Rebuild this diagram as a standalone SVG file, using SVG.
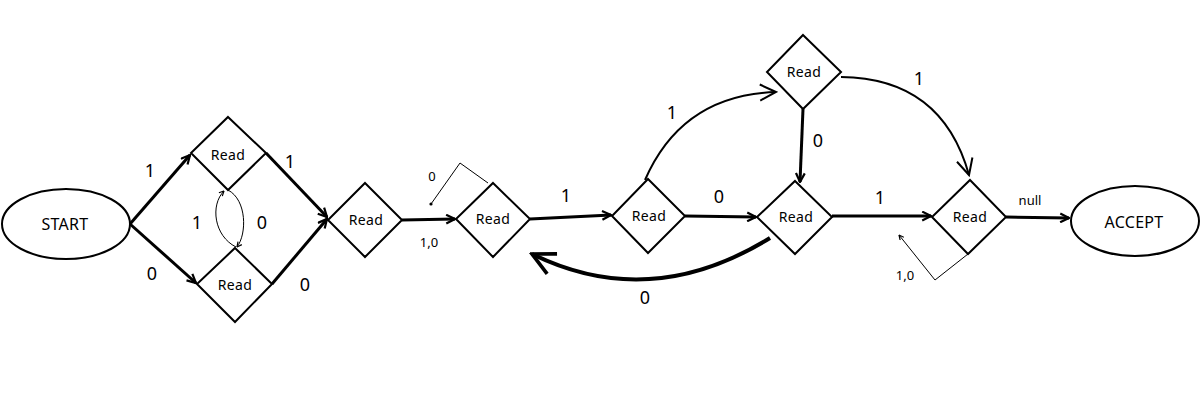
<svg xmlns="http://www.w3.org/2000/svg" width="1200" height="400" viewBox="0 0 1200 400">
<style>
.node{fill:#fff;stroke:#000;stroke-width:2}
.lbl{font-family:"Noto Sans","Liberation Sans",sans-serif;fill:#000;text-anchor:middle;dominant-baseline:central}
.read{font-size:14px;letter-spacing:0.4px}
.term{font-size:16px;letter-spacing:0.3px}
.edge{font-size:18px}
.small{font-size:13px}
.thick{fill:none;stroke:#000;stroke-width:3}
.mid{fill:none;stroke:#000;stroke-width:2}
.thin{fill:none;stroke:#000;stroke-width:1}
</style>
<defs>
<marker id="ah" viewBox="0 0 10 10" refX="9" refY="5" markerWidth="11" markerHeight="11" markerUnits="userSpaceOnUse" orient="auto">
<path d="M1,1 L9,5 L1,9" fill="none" stroke="#000" stroke-width="2"/>
</marker>
<marker id="big" viewBox="0 0 10 10" refX="9" refY="5" markerWidth="20" markerHeight="20" markerUnits="userSpaceOnUse" orient="auto">
<path d="M1,1 L9,5 L1,9" fill="none" stroke="#000" stroke-width="1"/>
</marker>
<marker id="bigthick" viewBox="0 0 10 10" refX="9" refY="5" markerWidth="28" markerHeight="28" markerUnits="userSpaceOnUse" orient="auto">
<path d="M1,1 L9,5 L1,9" fill="none" stroke="#000" stroke-width="1.3"/>
</marker>
<marker id="tiny" viewBox="0 0 10 10" refX="9" refY="5" markerWidth="6" markerHeight="6" markerUnits="userSpaceOnUse" orient="auto">
<path d="M1,1 L9,5 L1,9" fill="none" stroke="#000" stroke-width="2"/>
</marker>
</defs>

<g id="connectors">
<path class="thick" d="M130,224 L190,155" marker-end="url(#ah)"/>
<path class="thick" d="M130,224 L196,283" marker-end="url(#ah)"/>
<path class="thick" d="M266,153 L327,217" marker-end="url(#ah)"/>
<path class="thick" d="M272,284 L327,219" marker-end="url(#ah)"/>
<path class="thin" d="M236,247 C214,236 210,205 224,191" stroke-width="0.8" marker-end="url(#tiny)"/>
<path class="thin" d="M228,190 C247,200 247,234 237,247" stroke-width="0.8" marker-end="url(#tiny)"/>
<path class="thick" d="M402,220 L455,219" marker-end="url(#ah)"/>
<polyline class="thin" points="488,183 460,163 431,204"/>
<circle cx="431" cy="204" r="1.6" fill="#000"/>
<path class="thick" d="M530,219 L611,215" marker-end="url(#ah)"/>
<path class="mid" d="M645,180 Q682,95 776,92" marker-end="url(#big)"/>
<path class="thick" d="M685,216 L756,217" marker-end="url(#ah)"/>
<path class="thick" d="M803,109 L800,182" marker-end="url(#ah)"/>
<path class="mid" d="M841,77 Q942,78 969,175" marker-end="url(#big)"/>
<path d="M770,238 Q650,312 532,254" fill="none" stroke="#000" stroke-width="4" marker-end="url(#bigthick)"/>
<path class="thick" d="M832,216 L931,216" marker-end="url(#ah)"/>
<polyline class="thin" points="968,254 935,280 899,235" stroke-width="1.5" marker-end="url(#tiny)"/>
<path class="thick" d="M1006,217 L1069,218" marker-end="url(#ah)"/>
</g>

<g id="start">
<ellipse class="node" cx="66" cy="224" rx="64" ry="35"/>
<text class="lbl term" x="65" y="224">START</text>
</g>
<g id="read1">
<polygon class="node" points="228,117 266,153 228,190 191,153"/>
<text class="lbl read" x="228" y="154">Read</text>
</g>
<g id="read2">
<polygon class="node" points="235,248 272,284 235,322 197,284"/>
<text class="lbl read" x="235" y="284">Read</text>
</g>
<g id="read3">
<polygon class="node" points="365,183 402,220 365,257 328,220"/>
<text class="lbl read" x="366" y="219">Read</text>
</g>
<g id="read4">
<polygon class="node" points="493,183 530,219 493,257 456,219"/>
<text class="lbl read" x="493" y="218">Read</text>
</g>
<g id="read5">
<polygon class="node" points="648,179 685,216 648,253 612,216"/>
<text class="lbl read" x="649" y="215">Read</text>
</g>
<g id="read6">
<polygon class="node" points="803,35 841,72 803,109 767,72"/>
<text class="lbl read" x="804" y="71">Read</text>
</g>
<g id="read7">
<polygon class="node" points="795,181 832,217 795,254 757,217"/>
<text class="lbl read" x="796" y="216">Read</text>
</g>
<g id="read8">
<polygon class="node" points="970,180 1006,217 968,254 932,217"/>
<text class="lbl read" x="970" y="216">Read</text>
</g>
<g id="accept">
<ellipse class="node" cx="1135" cy="221" rx="64" ry="35"/>
<text class="lbl term" x="1134" y="222">ACCEPT</text>
</g>

<g id="labels">
<text class="lbl edge" x="150" y="170">1</text>
<text class="lbl edge" x="152" y="273">0</text>
<text class="lbl edge" x="290" y="161">1</text>
<text class="lbl edge" x="305" y="284">0</text>
<text class="lbl edge" x="197" y="222">1</text>
<text class="lbl edge" x="262" y="222">0</text>
<text class="lbl small" x="429" y="242">1,0</text>
<text class="lbl small" x="432" y="176">0</text>
<text class="lbl edge" x="566" y="195">1</text>
<text class="lbl edge" x="672" y="112">1</text>
<text class="lbl edge" x="719" y="196">0</text>
<text class="lbl edge" x="818" y="140">0</text>
<text class="lbl edge" x="645" y="297">0</text>
<text class="lbl edge" x="919" y="78">1</text>
<text class="lbl edge" x="880" y="197">1</text>
<text class="lbl small" x="1030" y="200">null</text>
<text class="lbl small" x="905" y="275">1,0</text>
</g>
</svg>
